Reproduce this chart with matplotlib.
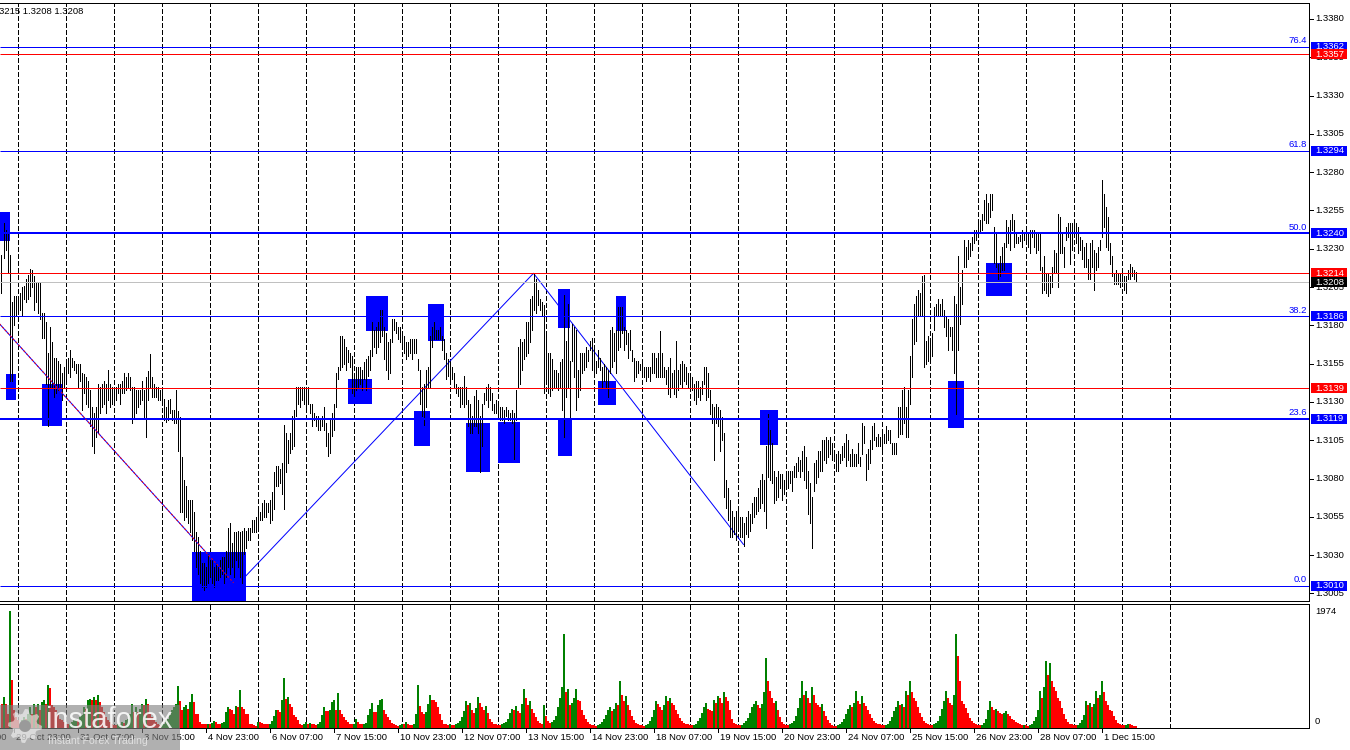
import numpy as np
import matplotlib
matplotlib.use("Agg")
import matplotlib.pyplot as plt
from matplotlib.patches import Rectangle, Polygon
from matplotlib.lines import Line2D

# ---------------- data ----------------
HIGH = [
1.3226,1.3247,1.3242,1.3241,1.3226,1.3195,1.3199,1.3199,1.3199,1.3201,
1.3205,1.3206,1.3210,1.3213,1.3217,1.3216,1.3212,1.3208,1.3208,1.3208,
1.3188,1.3188,1.3182,1.3162,1.3179,1.3169,1.3159,1.3159,1.3157,1.3155,
1.3149,1.3153,1.3157,1.3159,1.3164,1.3159,1.3157,1.3155,1.3155,1.3155,
1.3149,1.3148,1.3146,1.3144,1.3138,1.3127,1.3123,1.3127,1.3142,1.3140,
1.3142,1.3144,1.3142,1.3151,1.3142,1.3140,1.3138,1.3140,1.3142,1.3142,
1.3144,1.3149,1.3146,1.3149,1.3146,1.3140,1.3140,1.3138,1.3138,1.3138,
1.3144,1.3138,1.3146,1.3150,1.3161,1.3146,1.3142,1.3140,1.3140,1.3138,
1.3138,1.3132,1.3127,1.3131,1.3132,1.3125,1.3125,1.3138,1.3124,1.3120,
1.3094,1.3079,1.3075,1.3066,1.3066,1.3066,1.3058,1.3045,1.3042,1.3033,
1.3025,1.3025,1.3022,1.3031,1.3027,1.3027,1.3022,1.3025,1.3022,1.3027,
1.3029,1.3029,1.3033,1.3048,1.3051,1.3038,1.3045,1.3045,1.3046,1.3045,
1.3046,1.3048,1.3046,1.3048,1.3048,1.3053,1.3053,1.3055,1.3060,1.3058,
1.3064,1.3066,1.3064,1.3064,1.3066,1.3071,1.3084,1.3088,1.3088,1.3086,
1.3090,1.3115,1.3110,1.3105,1.3110,1.3121,1.3125,1.3140,1.3140,1.3140,
1.3140,1.3140,1.3140,1.3140,1.3129,1.3129,1.3123,1.3121,1.3121,1.3118,
1.3121,1.3127,1.3116,1.3110,1.3118,1.3123,1.3129,1.3149,1.3153,1.3173,
1.3173,1.3171,1.3166,1.3164,1.3162,1.3160,1.3149,1.3153,1.3153,1.3153,
1.3151,1.3156,1.3158,1.3160,1.3164,1.3182,1.3177,1.3179,1.3182,1.3190,
1.3190,1.3179,1.3175,1.3169,1.3171,1.3184,1.3184,1.3182,1.3179,1.3179,
1.3173,1.3173,1.3169,1.3169,1.3171,1.3171,1.3171,1.3171,1.3158,1.3151,
1.3140,1.3142,1.3151,1.3153,1.3173,1.3179,1.3182,1.3177,1.3177,1.3179,
1.3173,1.3171,1.3162,1.3158,1.3156,1.3153,1.3149,1.3142,1.3140,1.3140,
1.3140,1.3147,1.3140,1.3131,1.3129,1.3121,1.3134,1.3138,1.3131,1.3121,
1.3129,1.3136,1.3140,1.3142,1.3140,1.3136,1.3129,1.3131,1.3129,1.3127,
1.3127,1.3125,1.3127,1.3125,1.3123,1.3125,1.3123,1.3138,1.3166,1.3171,
1.3169,1.3171,1.3182,1.3182,1.3197,1.3199,1.3214,1.3210,1.3203,1.3197,
1.3195,1.3193,1.3173,1.3162,1.3162,1.3158,1.3151,1.3151,1.3149,1.3156,
1.3158,1.3200,1.3170,1.3194,1.3157,1.3181,1.3179,1.3177,1.3151,1.3162,
1.3162,1.3162,1.3166,1.3164,1.3170,1.3172,1.3166,1.3157,1.3164,1.3159,
1.3153,1.3155,1.3153,1.3151,1.3177,1.3179,1.3175,1.3177,1.3192,1.3192,
1.3192,1.3179,1.3177,1.3175,1.3177,1.3164,1.3159,1.3157,1.3157,1.3155,
1.3157,1.3153,1.3153,1.3153,1.3153,1.3162,1.3162,1.3159,1.3162,1.3176,
1.3162,1.3153,1.3151,1.3153,1.3159,1.3149,1.3151,1.3170,1.3151,1.3155,
1.3157,1.3155,1.3153,1.3149,1.3146,1.3146,1.3142,1.3144,1.3144,1.3140,
1.3144,1.3153,1.3153,1.3149,1.3138,1.3129,1.3127,1.3129,1.3127,1.3125,
1.3120,1.3110,1.3079,1.3074,1.3066,1.3059,1.3055,1.3059,1.3061,1.3055,
1.3055,1.3051,1.3055,1.3059,1.3057,1.3064,1.3068,1.3068,1.3074,1.3079,
1.3083,1.3079,1.3101,1.3122,1.3112,1.3103,1.3085,1.3081,1.3085,1.3083,
1.3083,1.3079,1.3083,1.3085,1.3085,1.3085,1.3088,1.3090,1.3094,1.3092,
1.3098,1.3101,1.3094,1.3085,1.3077,1.3068,1.3090,1.3092,1.3098,1.3098,
1.3105,1.3105,1.3107,1.3105,1.3107,1.3103,1.3098,1.3096,1.3098,1.3096,
1.3101,1.3103,1.3109,1.3105,1.3096,1.3099,1.3096,1.3096,1.3103,1.3094,
1.3116,1.3114,1.3096,1.3099,1.3105,1.3114,1.3116,1.3107,1.3109,1.3107,
1.3109,1.3109,1.3114,1.3112,1.3112,1.3103,1.3103,1.3103,1.3127,1.3127,
1.3138,1.3140,1.3127,1.3138,1.3160,1.3184,1.3194,1.3199,1.3203,1.3201,
1.3212,1.3213,1.3170,1.3173,1.3170,1.3175,1.3192,1.3194,1.3197,1.3194,
1.3197,1.3190,1.3186,1.3184,1.3179,1.3179,1.3199,1.3194,1.3225,1.3205,
1.3216,1.3236,1.3231,1.3236,1.3234,1.3238,1.3242,1.3242,1.3247,1.3249,
1.3253,1.3262,1.3266,1.3260,1.3266,1.3266,1.3244,1.3240,1.3220,1.3225,
1.3231,1.3234,1.3249,1.3244,1.3249,1.3253,1.3249,1.3240,1.3238,1.3239,
1.3242,1.3240,1.3242,1.3240,1.3242,1.3242,1.3242,1.3240,1.3240,1.3240,
1.3218,1.3225,1.3214,1.3214,1.3212,1.3218,1.3229,1.3227,1.3253,1.3251,
1.3240,1.3231,1.3244,1.3247,1.3247,1.3247,1.3247,1.3247,1.3244,1.3238,
1.3236,1.3231,1.3234,1.3223,1.3234,1.3236,1.3229,1.3227,1.3231,1.3236,
1.3275,1.3266,1.3257,1.3251,1.3234,1.3225,1.3214,1.3216,1.3214,1.3214,
1.3214,1.3212,1.3212,1.3216,1.3220,1.3218,1.3216,1.3215]

LOW = [
1.3201,1.3224,1.3229,1.3214,1.3144,1.3144,1.3180,1.3186,1.3190,1.3190,
1.3187,1.3197,1.3195,1.3197,1.3199,1.3205,1.3190,1.3195,1.3188,1.3184,
1.3172,1.3172,1.3142,1.3114,1.3140,1.3140,1.3133,1.3136,1.3138,1.3140,
1.3131,1.3140,1.3144,1.3149,1.3146,1.3153,1.3151,1.3149,1.3140,1.3144,
1.3125,1.3136,1.3129,1.3127,1.3114,1.3101,1.3097,1.3107,1.3110,1.3123,
1.3127,1.3129,1.3123,1.3131,1.3127,1.3129,1.3129,1.3131,1.3136,1.3129,
1.3136,1.3136,1.3138,1.3140,1.3138,1.3116,1.3120,1.3123,1.3127,1.3129,
1.3131,1.3120,1.3107,1.3131,1.3140,1.3133,1.3133,1.3133,1.3131,1.3131,
1.3131,1.3118,1.3117,1.3118,1.3123,1.3118,1.3116,1.3116,1.3098,1.3058,
1.3058,1.3053,1.3055,1.3051,1.3045,1.3040,1.3033,1.3022,1.3018,1.3012,
1.3009,1.3007,1.3009,1.3012,1.3016,1.3012,1.3009,1.3014,1.3014,1.3016,
1.3018,1.3012,1.3016,1.3022,1.3018,1.3022,1.3016,1.3027,1.3022,1.3016,
1.3012,1.3031,1.3035,1.3040,1.3040,1.3045,1.3045,1.3045,1.3046,1.3053,
1.3053,1.3055,1.3055,1.3058,1.3051,1.3053,1.3060,1.3075,1.3075,1.3077,
1.3070,1.3060,1.3084,1.3090,1.3097,1.3099,1.3101,1.3121,1.3129,1.3127,
1.3131,1.3129,1.3127,1.3129,1.3123,1.3114,1.3118,1.3114,1.3112,1.3112,
1.3114,1.3112,1.3101,1.3095,1.3097,1.3108,1.3112,1.3127,1.3145,1.3151,
1.3153,1.3155,1.3151,1.3156,1.3153,1.3136,1.3134,1.3138,1.3140,1.3142,
1.3138,1.3145,1.3138,1.3147,1.3151,1.3160,1.3166,1.3162,1.3166,1.3169,
1.3173,1.3158,1.3151,1.3145,1.3149,1.3169,1.3177,1.3175,1.3171,1.3169,
1.3166,1.3162,1.3158,1.3160,1.3162,1.3158,1.3162,1.3162,1.3151,1.3129,
1.3121,1.3115,1.3127,1.3140,1.3140,1.3166,1.3171,1.3171,1.3171,1.3171,
1.3164,1.3158,1.3145,1.3147,1.3145,1.3145,1.3140,1.3136,1.3134,1.3127,
1.3129,1.3127,1.3129,1.3114,1.3110,1.3110,1.3114,1.3114,1.3110,1.3084,
1.3101,1.3129,1.3131,1.3127,1.3131,1.3125,1.3123,1.3123,1.3121,1.3118,
1.3118,1.3116,1.3121,1.3118,1.3118,1.3116,1.3093,1.3118,1.3140,1.3142,
1.3151,1.3158,1.3160,1.3162,1.3169,1.3177,1.3190,1.3188,1.3193,1.3190,
1.3186,1.3136,1.3145,1.3136,1.3134,1.3138,1.3140,1.3140,1.3138,1.3140,
1.3125,1.3107,1.3133,1.3140,1.3120,1.3157,1.3146,1.3125,1.3133,1.3138,
1.3149,1.3151,1.3153,1.3157,1.3164,1.3151,1.3149,1.3149,1.3153,1.3151,
1.3140,1.3144,1.3140,1.3133,1.3149,1.3153,1.3157,1.3149,1.3164,1.3166,
1.3175,1.3164,1.3168,1.3159,1.3164,1.3157,1.3144,1.3146,1.3149,1.3151,
1.3149,1.3146,1.3144,1.3146,1.3144,1.3149,1.3149,1.3146,1.3146,1.3146,
1.3146,1.3146,1.3142,1.3135,1.3133,1.3140,1.3135,1.3133,1.3138,1.3142,
1.3140,1.3144,1.3142,1.3140,1.3140,1.3138,1.3131,1.3129,1.3133,1.3131,
1.3135,1.3142,1.3131,1.3133,1.3122,1.3116,1.3092,1.3116,1.3114,1.3098,
1.3105,1.3068,1.3061,1.3053,1.3042,1.3042,1.3044,1.3040,1.3046,1.3042,
1.3042,1.3036,1.3044,1.3042,1.3046,1.3051,1.3055,1.3057,1.3059,1.3061,
1.3064,1.3059,1.3048,1.3081,1.3079,1.3077,1.3064,1.3066,1.3068,1.3074,
1.3066,1.3070,1.3074,1.3074,1.3077,1.3072,1.3081,1.3081,1.3085,1.3081,
1.3085,1.3079,1.3074,1.3057,1.3051,1.3035,1.3072,1.3077,1.3081,1.3085,
1.3085,1.3092,1.3090,1.3094,1.3096,1.3092,1.3092,1.3085,1.3085,1.3090,
1.3092,1.3094,1.3088,1.3092,1.3088,1.3088,1.3088,1.3088,1.3090,1.3088,
1.3096,1.3103,1.3079,1.3086,1.3090,1.3099,1.3105,1.3101,1.3101,1.3101,
1.3099,1.3103,1.3103,1.3105,1.3103,1.3096,1.3096,1.3096,1.3107,1.3109,
1.3109,1.3116,1.3107,1.3107,1.3129,1.3146,1.3168,1.3170,1.3186,1.3186,
1.3186,1.3153,1.3155,1.3157,1.3157,1.3160,1.3177,1.3186,1.3186,1.3186,
1.3186,1.3179,1.3173,1.3164,1.3173,1.3164,1.3149,1.3122,1.3164,1.3181,
1.3194,1.3218,1.3218,1.3223,1.3225,1.3229,1.3234,1.3236,1.3238,1.3240,
1.3242,1.3249,1.3247,1.3247,1.3251,1.3255,1.3221,1.3218,1.3210,1.3212,
1.3216,1.3216,1.3231,1.3234,1.3229,1.3242,1.3231,1.3234,1.3234,1.3235,
1.3231,1.3236,1.3234,1.3231,1.3227,1.3238,1.3231,1.3227,1.3229,1.3216,
1.3201,1.3203,1.3201,1.3199,1.3201,1.3205,1.3214,1.3214,1.3205,1.3227,
1.3227,1.3218,1.3236,1.3238,1.3220,1.3229,1.3238,1.3234,1.3227,1.3229,
1.3223,1.3218,1.3218,1.3210,1.3210,1.3218,1.3203,1.3216,1.3218,1.3229,
1.3238,1.3244,1.3231,1.3229,1.3220,1.3212,1.3207,1.3207,1.3207,1.3205,
1.3207,1.3203,1.3201,1.3210,1.3210,1.3212,1.3210,1.3208]

VOLUME = [
411,524,411,242,1974,805,298,186,129,73,
129,186,158,242,355,242,411,355,411,298,
439,467,411,721,681,383,355,298,214,158,
129,101,73,62,73,101,129,158,129,186,
214,355,327,467,495,467,524,467,563,439,
355,270,186,129,101,73,45,45,62,73,
101,84,129,158,242,400,270,355,270,327,
411,383,495,400,242,186,129,101,73,45,
62,73,129,158,214,298,355,411,704,456,
298,355,383,327,439,580,439,231,231,101,
73,62,62,73,62,84,118,101,73,62,
84,101,270,355,327,298,242,366,355,647,
355,327,242,231,62,62,45,39,101,96,
84,73,62,62,73,118,208,298,298,265,
467,850,490,524,411,355,214,186,129,73,
45,62,96,62,84,73,62,45,73,101,
214,355,287,287,298,439,467,298,591,298,
242,186,129,96,62,62,73,158,101,62,
62,73,84,214,327,422,265,265,383,467,
495,298,242,186,129,84,62,45,39,45,
62,62,96,62,51,45,73,242,721,366,
270,242,270,411,552,467,467,439,355,242,
129,73,62,51,
60,50,45,60,80,110,180,280,460,380,420,300,260,330,520,430,350,300,370,250,160,100,70,
70,55,50,60,80,100,150,250,320,300,370,280,250,400,660,500,380,450,320,250,180,120,80,60,
380,200,120,90,100,130,200,350,500,700,1590,600,650,380,420,500,659,480,456,300,220,150,100,60,
50,45,40,55,70,100,150,220,300,350,280,320,420,380,794,560,460,541,380,300,200,130,90,60,
55,45,40,50,70,110,180,300,456,400,350,300,380,541,450,500,420,380,300,230,170,120,80,60,
60,50,45,55,70,110,170,260,350,420,320,300,280,480,420,541,500,420,600,520,450,300,150,90,
60,50,45,55,80,110,170,260,350,400,456,380,330,400,600,1183,800,625,500,420,456,300,180,100,
70,55,50,60,80,120,200,330,500,794,560,625,500,420,700,560,420,380,350,400,280,200,140,90,
50,40,40,50,70,100,160,240,320,380,350,420,625,450,400,541,420,372,300,240,170,110,80,60,
60,50,45,55,75,110,180,280,350,456,380,400,350,625,560,794,600,500,456,350,260,180,120,80,
70,55,50,60,80,120,200,320,450,625,500,420,380,560,1589,1217,800,456,400,330,250,170,110,80,
60,50,45,55,80,150,300,456,350,300,320,287,250,230,260,287,240,200,160,130,100,80,60,50,
55,45,40,50,70,110,180,300,625,500,700,1132,900,1099,800,700,625,500,456,330,230,150,100,70,
60,50,45,55,80,130,220,456,380,420,350,400,625,500,560,794,600,456,380,300,287,200,130,90,
60,50,45,55,70,60,50,40,30]

LEVEL_PRICES = [1.3362, 1.3357, 1.3294, 1.3240, 1.3214, 1.3208, 1.3186, 1.3139, 1.3119, 1.3010]
LEVEL_COLORS = ['#0000FF', '#FF0000', '#0000FF', '#0000FF', '#FF0000', '#C0C0C0',
                '#0000FF', '#FF0000', '#0000FF', '#0000FF']
LEVEL_THICK = [False, False, False, True, False, False, False, False, True, False]
LEVEL_TAG_BG = ['#0000FF', '#FF0000', '#0000FF', '#0000FF', '#FF0000', '#000000',
                '#0000FF', '#FF0000', '#0000FF', '#0000FF']
FIB_TEXT = ['76.4', '', '61.8', '50.0', '', '', '38.2', '', '23.6', '0.0']

RECT_START = [-0.5, 2.0, 20.0, 95.0, 182.0, 173.0, 213.0, 206.0, 232.0, 248.0,
              278.0, 278.0, 298.0, 307.0, 379.0, 473.0, 492.0]
RECT_END = [4.0, 7.0, 30.0, 122.0, 193.0, 185.0, 221.0, 214.0, 244.0, 259.0,
            284.0, 285.0, 307.0, 312.0, 388.0, 481.0, 505.0]
RECT_TOP = [1.3254, 1.3148, 1.3142, 1.3032, 1.3199, 1.3145, 1.3194, 1.3124, 1.3116, 1.3117,
            1.3204, 1.3119, 1.3144, 1.3199, 1.3125, 1.3144, 1.3221]
RECT_BOTTOM = [1.3235, 1.3131, 1.3114, 1.2990, 1.3176, 1.3129, 1.3170, 1.3101, 1.3084, 1.3090,
               1.3178, 1.3095, 1.3128, 1.3176, 1.3102, 1.3113, 1.3199]

ZZ1_BARS, ZZ1_PRICES = [-1, 116], [1.3181, 1.3012]
ZZ2_BARS, ZZ2_PRICES = [116, 266, 371], [1.3008, 1.3214, 1.3037]

TICK_BARS = [-26, 6, 38, 70, 102, 134, 166, 198, 230, 262, 294, 326, 358, 390,
             422, 454, 486, 518, 550]
TICK_LABELS = ['28 Oct 15:00', '29 Oct 23:00', '31 Oct 07:00', '3 Nov 15:00', '4 Nov 23:00',
               '6 Nov 07:00', '7 Nov 15:00', '10 Nov 23:00', '12 Nov 07:00', '13 Nov 15:00',
               '14 Nov 23:00', '18 Nov 07:00', '19 Nov 15:00', '20 Nov 23:00', '24 Nov 07:00',
               '25 Nov 15:00', '26 Nov 23:00', '28 Nov 07:00', '1 Dec 15:00']
GRID_BARS = list(range(8, 585, 24))
PRICE_TICKS = [1.3005, 1.3030, 1.3055, 1.3080, 1.3105, 1.3130, 1.3155, 1.3180, 1.3205,
               1.3230, 1.3255, 1.3280, 1.3305, 1.3330, 1.3355, 1.3380]
VOL_MAX_LABEL = '1974'
HEADER = '3215 1.3208 1.3208'

assert len(HIGH) == len(LOW) == len(VOLUME)

# ---------------- figure ----------------
W, H = 1350, 750
FONT = ['Liberation Sans', 'DejaVu Sans']
FS = 6.8
LW1 = 0.72     # 1 px
LW2 = 1.44     # 2 px
fig = plt.figure(figsize=(W / 100, H / 100), dpi=100)
fig.patch.set_facecolor('white')


def fx(px):
    return px / W


def fy(py):
    return 1 - py / H


ax = fig.add_axes([0, fy(601), fx(1309), fy(3) - fy(601)])
axv = fig.add_axes([0, fy(728), fx(1309), fy(604) - fy(728)])

n = len(HIGH)
idx = np.arange(n)
XL = (-0.75, 653.75)

for a in (ax, axv):
    a.set_xlim(*XL)
    a.set_xticks([])
    a.set_yticks([])
    a.set_facecolor('white')
    a.spines['left'].set_visible(False)
    for s in ('top', 'right', 'bottom'):
        a.spines[s].set_color('black')
        a.spines[s].set_linewidth(LW1)
    for g in GRID_BARS:
        a.axvline(g, color='black', lw=0.7, ls=(0, (5, 3)), zorder=1, antialiased=False)

ax.set_ylim(1.30001, 1.33904)
axv.set_ylim(0, 2092)

# zones
for s, e, t, b in zip(RECT_START, RECT_END, RECT_TOP, RECT_BOTTOM):
    ax.add_patch(Rectangle((s, b), e - s, t - b, facecolor='#0000FF', edgecolor='none',
                           zorder=2, antialiased=False))

# zigzag lines
ax.plot(ZZ2_BARS, ZZ2_PRICES, color='#0000FF', lw=LW1, zorder=1.5)
ax.plot(ZZ1_BARS, ZZ1_PRICES, color='#0000FF', lw=LW1, zorder=6)
ax.plot(ZZ1_BARS, ZZ1_PRICES, color='#FF0000', lw=LW1, ls=(0, (2, 2)), zorder=6.5)

# price bars
ax.vlines(idx, LOW, HIGH, color='black', lw=0.7, zorder=3, antialiased=False)

# horizontal levels
for p, c, th in zip(LEVEL_PRICES, LEVEL_COLORS, LEVEL_THICK):
    ax.axhline(p, color=c, lw=LW2 if th else LW1, zorder=4, antialiased=True, snap=True,
               solid_capstyle='butt')

# volumes (green when volume rises vs previous bar, red otherwise)
vcol = ['#008000' if i > 0 and VOLUME[i] > VOLUME[i - 1] else '#FF0000' for i in range(n)]
axv.bar(idx - 0.25, VOLUME, width=1.0, align='edge', color=vcol, linewidth=0,
        antialiased=False, zorder=3)

fig.canvas.draw()


def ypix(p):
    return ax.transData.transform((0, p))[1]


# right price scale
for p in PRICE_TICKS:
    yp = ypix(p)
    fig.add_artist(Line2D([fx(1309), fx(1313)], [yp / H, yp / H], color='black', lw=0.7,
                          antialiased=False))
    fig.text(fx(1315), yp / H, f'{p:.4f}', fontsize=FS, family=FONT, va='center', ha='left',
             color='black')

for p, bg, ft in zip(LEVEL_PRICES, LEVEL_TAG_BG, FIB_TEXT):
    yp = ypix(p)
    fig.add_artist(Rectangle((fx(1311), (yp - 5) / H), fx(36), 10 / H, facecolor=bg,
                             edgecolor='none', transform=fig.transFigure, zorder=5))
    fig.text(fx(1315), yp / H, f'{p:.4f}', fontsize=FS, family=FONT, va='center', ha='left',
             color='white', zorder=6)
    if ft:
        fig.text(fx(1307), (yp + 1.5) / H, ft, fontsize=FS, family=FONT, va='bottom',
                 ha='right', color='#0000FF', zorder=6)

# volume scale
fig.text(fx(1315), fy(612), VOL_MAX_LABEL, fontsize=FS, family=FONT, va='center', color='black')
fig.text(fx(1315), fy(722), '0', fontsize=FS, family=FONT, va='center', color='black')

# time axis labels
for b, lab in zip(TICK_BARS, TICK_LABELS):
    xd = axv.transData.transform((b, 0))[0]
    fig.add_artist(Line2D([xd / W, xd / W], [fy(728), fy(732)], color='black', lw=0.7,
                          antialiased=False))
    fig.text((xd + 2) / W, fy(738), lab, fontsize=FS, family=FONT, va='center', ha='left',
             color='black')

# header text
fig.text(fx(-1), fy(11), HEADER, fontsize=FS, family=FONT, va='center', ha='left', color='black')

# watermark
fig.add_artist(Rectangle((0, fy(750)), fx(180), 45 / H, facecolor='#808080', alpha=0.62,
                         edgecolor='none', transform=fig.transFigure, zorder=10))
cx, cy = 25, 726
pts = []
for k in range(32):
    ang = 2 * np.pi * k / 32
    r = 17 if (k // 2) % 2 == 0 else 12.5
    pts.append((fx(cx + r * np.cos(ang)), fy(cy + r * np.sin(ang))))
fig.add_artist(Polygon(pts, closed=True, facecolor='white', alpha=0.55, edgecolor='none',
                       transform=fig.transFigure, zorder=11))
fig.add_artist(Polygon([(fx(cx + 6 * np.cos(2 * np.pi * k / 24)), fy(cy + 6 * np.sin(2 * np.pi * k / 24)))
                        for k in range(24)], closed=True, facecolor='#9a9a9a', edgecolor='none',
                       transform=fig.transFigure, zorder=12))
fig.text(fx(46), fy(728), 'instaforex', fontsize=21, family=FONT, color='white', alpha=0.85,
         va='baseline', ha='left', zorder=12)
fig.text(fx(48), fy(741), 'Instant Forex Trading', fontsize=7.6, family=FONT, color='#e0e0e0',
         va='center', ha='left', zorder=12)

fig.savefig('out.png', dpi=100, facecolor='white')
